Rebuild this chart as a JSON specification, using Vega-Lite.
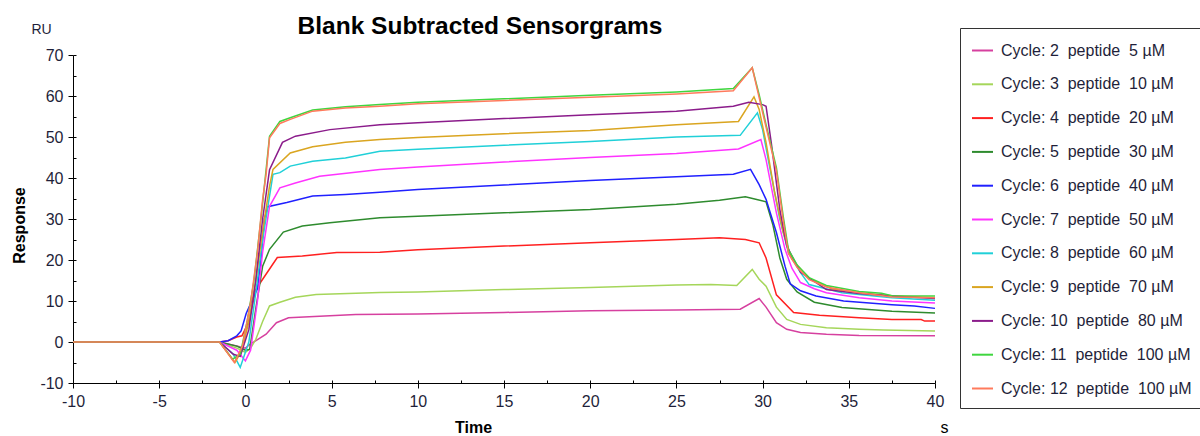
{
  "$schema": "https://vega.github.io/schema/vega-lite/v6.json",
  "width": 862,
  "height": 328,
  "autosize": "none",
  "padding": {"left": 73, "top": 55, "right": 265, "bottom": 53},
  "background": "white",
  "config": {"view": {"stroke": null}, "font": "Liberation Sans", "locale": {"number": {"decimal": ".", "thousands": ",", "grouping": [3], "currency": ["$", ""], "minus": "-"}}},
  "title": {"text": "Blank Subtracted Sensorgrams", "fontSize": 24.5, "fontWeight": "bold", "color": "#000", "anchor": "middle", "dx": -24, "dy": 25, "frame": "group", "offset": 8},
  "datasets": {
    "names": [
      {"c": 2, "name": "Cycle: 2\u00a0 peptide\u00a0 5 µM"},
      {"c": 3, "name": "Cycle: 3\u00a0 peptide\u00a0 10 µM"},
      {"c": 4, "name": "Cycle: 4\u00a0 peptide\u00a0 20 µM"},
      {"c": 5, "name": "Cycle: 5\u00a0 peptide\u00a0 30 µM"},
      {"c": 6, "name": "Cycle: 6\u00a0 peptide\u00a0 40 µM"},
      {"c": 7, "name": "Cycle: 7\u00a0 peptide\u00a0 50 µM"},
      {"c": 8, "name": "Cycle: 8\u00a0 peptide\u00a0 60 µM"},
      {"c": 9, "name": "Cycle: 9\u00a0 peptide\u00a0 70 µM"},
      {"c": 10, "name": "Cycle: 10\u00a0 peptide\u00a0 80 µM"},
      {"c": 11, "name": "Cycle: 11\u00a0 peptide\u00a0 100 µM"},
      {"c": 12, "name": "Cycle: 12\u00a0 peptide\u00a0 100 µM"}
    ],
    "pts": [
      {"c":2,"t":-10,"v":0},{"c":2,"t":-1.5,"v":0},{"c":2,"t":-0.5,"v":-1},{"c":2,"t":0,"v":-1.5},{"c":2,"t":0.25,"v":-0.6},{"c":2,"t":1.2,"v":1.9},{"c":2,"t":1.8,"v":4.7},{"c":2,"t":2.5,"v":5.9},{"c":2,"t":4.3,"v":6.3},{"c":2,"t":6.4,"v":6.7},{"c":2,"t":10,"v":6.8},{"c":2,"t":15,"v":7.2},{"c":2,"t":20,"v":7.6},{"c":2,"t":25,"v":7.8},{"c":2,"t":28.7,"v":8.0},{"c":2,"t":29.8,"v":10.6},{"c":2,"t":30.2,"v":8.5},{"c":2,"t":30.8,"v":4.7},{"c":2,"t":31.4,"v":3.1},{"c":2,"t":32.2,"v":2.3},{"c":2,"t":33.7,"v":1.9},{"c":2,"t":35.6,"v":1.6},{"c":2,"t":40,"v":1.5},
      {"c":3,"t":-10,"v":0},{"c":3,"t":-1.5,"v":0},{"c":3,"t":-0.5,"v":-1.5},{"c":3,"t":0,"v":-2.5},{"c":3,"t":0.3,"v":-1.5},{"c":3,"t":0.6,"v":0.6},{"c":3,"t":1.0,"v":5},{"c":3,"t":1.4,"v":8.8},{"c":3,"t":2,"v":9.7},{"c":3,"t":2.9,"v":10.9},{"c":3,"t":4.1,"v":11.6},{"c":3,"t":7.8,"v":12.1},{"c":3,"t":10,"v":12.2},{"c":3,"t":15,"v":12.8},{"c":3,"t":20,"v":13.3},{"c":3,"t":25,"v":13.9},{"c":3,"t":27,"v":14.0},{"c":3,"t":28.5,"v":13.8},{"c":3,"t":29.4,"v":17.7},{"c":3,"t":29.8,"v":15.3},{"c":3,"t":30.2,"v":13.6},{"c":3,"t":30.8,"v":8.5},{"c":3,"t":31.4,"v":5.5},{"c":3,"t":32.2,"v":4.3},{"c":3,"t":33.7,"v":3.5},{"c":3,"t":35.6,"v":3.1},{"c":3,"t":37,"v":2.9},{"c":3,"t":40,"v":2.7},
      {"c":4,"t":-10,"v":0},{"c":4,"t":-1.5,"v":0},{"c":4,"t":-1,"v":0.3},{"c":4,"t":-0.5,"v":1.2},{"c":4,"t":-0.2,"v":1.5},{"c":4,"t":0.2,"v":5},{"c":4,"t":0.6,"v":12.8},{"c":4,"t":1.0,"v":15.3},{"c":4,"t":1.85,"v":20.6},{"c":4,"t":3.3,"v":21},{"c":4,"t":5.3,"v":21.8},{"c":4,"t":7.8,"v":21.9},{"c":4,"t":10,"v":22.5},{"c":4,"t":15,"v":23.4},{"c":4,"t":20,"v":24.2},{"c":4,"t":25,"v":25},{"c":4,"t":27.5,"v":25.4},{"c":4,"t":29,"v":25},{"c":4,"t":29.8,"v":24.2},{"c":4,"t":30.2,"v":20.5},{"c":4,"t":30.8,"v":11.5},{"c":4,"t":31.8,"v":7.2},{"c":4,"t":33.3,"v":6.5},{"c":4,"t":35.6,"v":5.9},{"c":4,"t":37.5,"v":5.5},{"c":4,"t":39.2,"v":5.5},{"c":4,"t":39.4,"v":5.1},{"c":4,"t":40,"v":5.1},
      {"c":5,"t":-10,"v":0},{"c":5,"t":-1.5,"v":0},{"c":5,"t":-0.5,"v":-1},{"c":5,"t":0,"v":-2},{"c":5,"t":0.25,"v":-1.8},{"c":5,"t":0.6,"v":8},{"c":5,"t":1.0,"v":18.5},{"c":5,"t":1.4,"v":22.6},{"c":5,"t":2.2,"v":26.8},{"c":5,"t":3.3,"v":28.3},{"c":5,"t":4.9,"v":29.1},{"c":5,"t":7.8,"v":30.3},{"c":5,"t":10,"v":30.7},{"c":5,"t":15,"v":31.5},{"c":5,"t":20,"v":32.3},{"c":5,"t":25,"v":33.6},{"c":5,"t":27.5,"v":34.6},{"c":5,"t":29,"v":35.4},{"c":5,"t":29.6,"v":34.8},{"c":5,"t":30.2,"v":34.2},{"c":5,"t":30.6,"v":28.5},{"c":5,"t":31,"v":20.5},{"c":5,"t":31.4,"v":15.3},{"c":5,"t":32,"v":12.2},{"c":5,"t":33,"v":9.7},{"c":5,"t":34.6,"v":8.4},{"c":5,"t":37.5,"v":7.5},{"c":5,"t":40,"v":7.1},
      {"c":6,"t":-10,"v":0},{"c":6,"t":-1.5,"v":0},{"c":6,"t":-1,"v":0.3},{"c":6,"t":-0.5,"v":1.5},{"c":6,"t":-0.25,"v":2.7},{"c":6,"t":0.05,"v":7},{"c":6,"t":0.7,"v":13},{"c":6,"t":0.9,"v":20},{"c":6,"t":1.1,"v":30},{"c":6,"t":1.3,"v":33},{"c":6,"t":2.4,"v":34},{"c":6,"t":3.9,"v":35.6},{"c":6,"t":5.8,"v":36},{"c":6,"t":7.8,"v":36.5},{"c":6,"t":10,"v":37.2},{"c":6,"t":15,"v":38.3},{"c":6,"t":20,"v":39.4},{"c":6,"t":25,"v":40.3},{"c":6,"t":28.3,"v":40.9},{"c":6,"t":29.3,"v":42.1},{"c":6,"t":29.8,"v":38.4},{"c":6,"t":30.2,"v":34.8},{"c":6,"t":30.8,"v":26.7},{"c":6,"t":31.3,"v":18.5},{"c":6,"t":31.6,"v":14.2},{"c":6,"t":32.2,"v":12.5},{"c":6,"t":33.1,"v":11.2},{"c":6,"t":34.7,"v":10},{"c":6,"t":37.5,"v":9.1},{"c":6,"t":38.8,"v":8.8},{"c":6,"t":40,"v":8.2},
      {"c":7,"t":-10,"v":0},{"c":7,"t":-1.5,"v":0},{"c":7,"t":-0.5,"v":-2},{"c":7,"t":0,"v":-4.6},{"c":7,"t":0.3,"v":-2},{"c":7,"t":0.7,"v":10},{"c":7,"t":1.0,"v":22},{"c":7,"t":1.4,"v":33.1},{"c":7,"t":2,"v":37.6},{"c":7,"t":2.9,"v":38.8},{"c":7,"t":4.3,"v":40.4},{"c":7,"t":7.8,"v":42.1},{"c":7,"t":10,"v":42.7},{"c":7,"t":15,"v":43.9},{"c":7,"t":20,"v":45},{"c":7,"t":25,"v":46},{"c":7,"t":28.6,"v":47.1},{"c":7,"t":29.9,"v":49.4},{"c":7,"t":30.2,"v":44.5},{"c":7,"t":30.8,"v":31.5},{"c":7,"t":31.3,"v":22.6},{"c":7,"t":31.7,"v":18},{"c":7,"t":32.2,"v":14.5},{"c":7,"t":33,"v":13},{"c":7,"t":33.7,"v":12},{"c":7,"t":35.6,"v":10.8},{"c":7,"t":37.5,"v":10},{"c":7,"t":40,"v":9.5},
      {"c":8,"t":-10,"v":0},{"c":8,"t":-1.5,"v":0},{"c":8,"t":-0.7,"v":-3},{"c":8,"t":-0.3,"v":-6.2},{"c":8,"t":0.2,"v":0},{"c":8,"t":0.6,"v":12},{"c":8,"t":1.0,"v":25},{"c":8,"t":1.6,"v":40.9},{"c":8,"t":2,"v":41.3},{"c":8,"t":2.6,"v":42.9},{"c":8,"t":3.9,"v":44.1},{"c":8,"t":5.8,"v":44.9},{"c":8,"t":7.8,"v":46.5},{"c":8,"t":10,"v":47},{"c":8,"t":15,"v":48},{"c":8,"t":20,"v":48.9},{"c":8,"t":25,"v":50},{"c":8,"t":28.7,"v":50.4},{"c":8,"t":29.7,"v":55.9},{"c":8,"t":30,"v":51.8},{"c":8,"t":30.4,"v":42.9},{"c":8,"t":31,"v":29.9},{"c":8,"t":31.5,"v":21.8},{"c":8,"t":32.2,"v":16.9},{"c":8,"t":32.7,"v":14},{"c":8,"t":34.6,"v":12},{"c":8,"t":37.5,"v":10.8},{"c":8,"t":40,"v":10.2},
      {"c":9,"t":-10,"v":0},{"c":9,"t":-1.5,"v":0},{"c":9,"t":-0.6,"v":-5},{"c":9,"t":-0.2,"v":-2},{"c":9,"t":0.2,"v":5},{"c":9,"t":0.6,"v":15},{"c":9,"t":1.0,"v":27},{"c":9,"t":1.4,"v":38},{"c":9,"t":1.6,"v":42.1},{"c":9,"t":2.6,"v":46.1},{"c":9,"t":3.9,"v":47.6},{"c":9,"t":5.8,"v":48.7},{"c":9,"t":7.8,"v":49.4},{"c":9,"t":10,"v":49.9},{"c":9,"t":15,"v":50.8},{"c":9,"t":20,"v":51.6},{"c":9,"t":25,"v":53},{"c":9,"t":28.6,"v":53.8},{"c":9,"t":29.5,"v":59.8},{"c":9,"t":29.8,"v":56.7},{"c":9,"t":30.2,"v":48.6},{"c":9,"t":30.7,"v":36.4},{"c":9,"t":31.2,"v":26.7},{"c":9,"t":31.7,"v":20.2},{"c":9,"t":32.7,"v":15.5},{"c":9,"t":34,"v":13},{"c":9,"t":35.6,"v":12},{"c":9,"t":37.5,"v":11.3},{"c":9,"t":40,"v":10.8},
      {"c":10,"t":-10,"v":0},{"c":10,"t":-1.5,"v":0},{"c":10,"t":-0.7,"v":-3},{"c":10,"t":-0.3,"v":-3.5},{"c":10,"t":0.2,"v":3},{"c":10,"t":0.6,"v":15},{"c":10,"t":1.0,"v":30},{"c":10,"t":1.4,"v":42},{"c":10,"t":2.15,"v":48.7},{"c":10,"t":2.9,"v":50.2},{"c":10,"t":4.9,"v":51.8},{"c":10,"t":7.8,"v":53},{"c":10,"t":10,"v":53.5},{"c":10,"t":15,"v":54.5},{"c":10,"t":20,"v":55.4},{"c":10,"t":25,"v":56.3},{"c":10,"t":28.3,"v":57.5},{"c":10,"t":29.2,"v":58.5},{"c":10,"t":30,"v":57.9},{"c":10,"t":30.2,"v":57.5},{"c":10,"t":30.5,"v":48.7},{"c":10,"t":31,"v":32.3},{"c":10,"t":31.4,"v":23.4},{"c":10,"t":32.2,"v":17},{"c":10,"t":33.7,"v":12.8},{"c":10,"t":35.6,"v":11.8},{"c":10,"t":37.5,"v":11.2},{"c":10,"t":40,"v":10.6},
      {"c":11,"t":-10,"v":0},{"c":11,"t":-1.5,"v":0},{"c":11,"t":-0.75,"v":-4.2},{"c":11,"t":-0.3,"v":-3},{"c":11,"t":0.1,"v":5},{"c":11,"t":0.5,"v":15},{"c":11,"t":0.9,"v":30},{"c":11,"t":1.2,"v":42},{"c":11,"t":1.4,"v":50.2},{"c":11,"t":2,"v":53.8},{"c":11,"t":2.6,"v":54.7},{"c":11,"t":3.9,"v":56.6},{"c":11,"t":5.8,"v":57.4},{"c":11,"t":7.8,"v":57.9},{"c":11,"t":10,"v":58.5},{"c":11,"t":15,"v":59.3},{"c":11,"t":20,"v":60.2},{"c":11,"t":25,"v":61},{"c":11,"t":28.3,"v":61.8},{"c":11,"t":29.4,"v":66.9},{"c":11,"t":29.8,"v":60.3},{"c":11,"t":30.2,"v":53},{"c":11,"t":30.8,"v":42.5},{"c":11,"t":31.2,"v":30.5},{"c":11,"t":31.5,"v":22.5},{"c":11,"t":32,"v":18.8},{"c":11,"t":32.7,"v":15.7},{"c":11,"t":33.7,"v":13.8},{"c":11,"t":35.6,"v":12.3},{"c":11,"t":36.9,"v":11.9},{"c":11,"t":37.5,"v":11.3},{"c":11,"t":40,"v":11.2},
      {"c":12,"t":-10,"v":0},{"c":12,"t":-1.5,"v":0},{"c":12,"t":-0.64,"v":-5},{"c":12,"t":-0.17,"v":-1},{"c":12,"t":0.12,"v":5.5},{"c":12,"t":0.33,"v":10.4},{"c":12,"t":0.7,"v":22},{"c":12,"t":1.0,"v":34.8},{"c":12,"t":1.2,"v":40.9},{"c":12,"t":1.4,"v":49.8},{"c":12,"t":2,"v":53.3},{"c":12,"t":2.6,"v":54.3},{"c":12,"t":3.9,"v":56.3},{"c":12,"t":5.8,"v":57.1},{"c":12,"t":7.8,"v":57.5},{"c":12,"t":10,"v":58.1},{"c":12,"t":15,"v":58.9},{"c":12,"t":20,"v":59.7},{"c":12,"t":25,"v":60.5},{"c":12,"t":28.3,"v":61.3},{"c":12,"t":29.4,"v":66.9},{"c":12,"t":29.8,"v":59.6},{"c":12,"t":30.2,"v":52.4},{"c":12,"t":30.8,"v":41.8},{"c":12,"t":31.2,"v":29.5},{"c":12,"t":31.5,"v":21.5},{"c":12,"t":32,"v":18.2},{"c":12,"t":32.7,"v":15.2},{"c":12,"t":33.7,"v":13.4},{"c":12,"t":35.6,"v":12},{"c":12,"t":37.5,"v":11},{"c":12,"t":40,"v":10.8}
    ]
  },
  "data": {"name": "pts"},
  "transform": [{"lookup": "c", "from": {"data": {"name": "names"}, "key": "c", "fields": ["name"]}}],
  "layer": [
    {
      "mark": {"type": "line", "strokeWidth": 1.5},
      "encoding": {
        "x": {"field": "t", "type": "quantitative", "scale": {"domain": [-10, 40], "nice": false, "zero": false},
          "axis": {"values": [-10, -5, 0, 5, 10, 15, 20, 25, 30, 35, 40], "grid": false, "tickSize": 5, "tickColor": "#000", "domainColor": "#000", "labelFontSize": 16, "labelColor": "#1f1f3a", "labelPadding": 5, "labelFlush": false, "labelOverlap": false,
            "title": "Time", "titleFontSize": 16, "titleFontWeight": "bold", "titleColor": "#000", "titleX": 400, "titleY": 49, "titleBaseline": "alphabetic", "titleAlign": "center"}},
        "y": {"field": "v", "type": "quantitative", "scale": {"domain": [-10, 70], "nice": false, "zero": false},
          "axis": {"values": [-10, 0, 10, 20, 30, 40, 50, 60, 70], "grid": false, "tickSize": 5, "tickColor": "#000", "domainColor": "#000", "labelFontSize": 16, "labelColor": "#1f1f3a", "labelPadding": 5, "labelFlush": false, "labelOverlap": false,
            "title": "Response", "titleFontSize": 16, "titleFontWeight": "bold", "titleColor": "#000", "titleX": -54, "titleY": 170, "titleAngle": 270, "titleAlign": "center", "titleBaseline": "middle"}},
        "color": {"field": "name", "type": "nominal",
          "scale": {"domain": ["Cycle: 2\u00a0 peptide\u00a0 5 µM", "Cycle: 3\u00a0 peptide\u00a0 10 µM", "Cycle: 4\u00a0 peptide\u00a0 20 µM", "Cycle: 5\u00a0 peptide\u00a0 30 µM", "Cycle: 6\u00a0 peptide\u00a0 40 µM", "Cycle: 7\u00a0 peptide\u00a0 50 µM", "Cycle: 8\u00a0 peptide\u00a0 60 µM", "Cycle: 9\u00a0 peptide\u00a0 70 µM", "Cycle: 10\u00a0 peptide\u00a0 80 µM", "Cycle: 11\u00a0 peptide\u00a0 100 µM", "Cycle: 12\u00a0 peptide\u00a0 100 µM"],
            "range": ["#d6409f", "#a5d65a", "#ff2020", "#2e8b2e", "#2020ff", "#ff33ff", "#20d0d8", "#daa520", "#8b1c8b", "#3fd63f", "#ff7a5c"]},
          "legend": {"title": null, "orient": "none", "legendX": 887, "legendY": -27, "direction": "vertical", "symbolType": "stroke", "symbolSize": 441, "symbolStrokeWidth": 2, "labelFontSize": 16, "labelColor": "#1f1f3a", "labelOffset": 7, "labelLimit": 400, "rowPadding": 13.8, "padding": 11, "strokeColor": "#333", "fillColor": "white"}}
      }
    },
    {
      "mark": {"type": "point", "opacity": 0},
      "encoding": {
        "x": {"field": "t", "type": "quantitative", "scale": {"domain": [-10, 40], "nice": false, "zero": false},
          "axis": {"orient": "bottom", "values": [-10, -7.5, -5, -2.5, 0, 2.5, 5, 7.5, 10, 12.5, 15, 17.5, 20, 22.5, 25, 27.5, 30, 32.5, 35, 37.5, 40], "grid": false, "domain": false, "labels": false, "tickSize": -3, "tickColor": "#000",
            "title": "s", "titleFontSize": 16, "titleFontWeight": "normal", "titleColor": "#000", "titleX": 871, "titleY": 49, "titleBaseline": "alphabetic", "titleAlign": "center"}},
        "y": {"field": "v", "type": "quantitative", "scale": {"domain": [-10, 70], "nice": false, "zero": false},
          "axis": {"orient": "left", "values": [-10, -5, 0, 5, 10, 15, 20, 25, 30, 35, 40, 45, 50, 55, 60, 65, 70], "grid": false, "domain": false, "labels": false, "tickSize": -3, "tickColor": "#000",
            "title": "RU", "titleFontSize": 14, "titleFontWeight": "normal", "titleColor": "#1f1f3a", "titleX": -32, "titleY": -26, "titleAngle": 0, "titleAlign": "center", "titleBaseline": "middle"}}
      }
    }
  ],
  "resolve": {"axis": {"x": "independent", "y": "independent"}}
}
